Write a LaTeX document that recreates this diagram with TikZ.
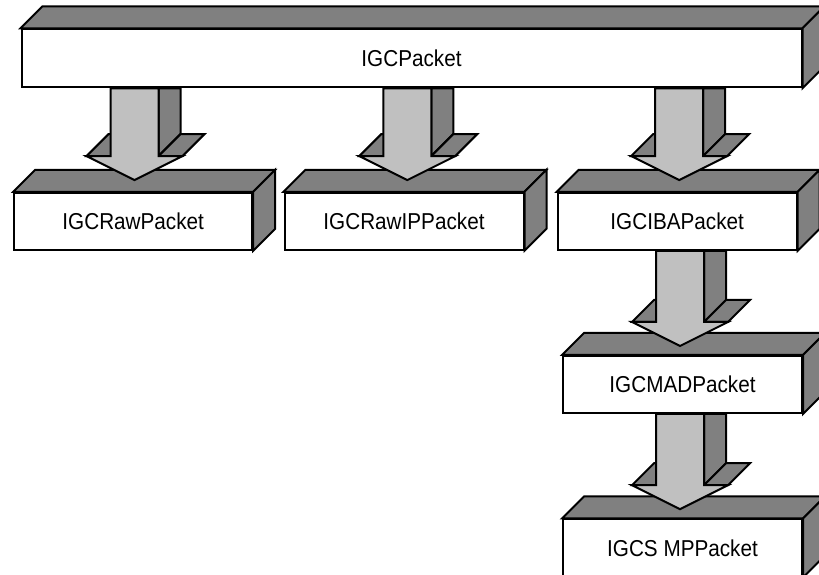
\documentclass[tikz,border=0pt]{standalone}
\usepackage{fontspec}
\setmainfont{Liberation Sans}
\newfontfamily\labelfont[FakeStretch=0.9]{Liberation Sans}
\usetikzlibrary{calc}
\definecolor{shade}{HTML}{808080}
\definecolor{lightshade}{HTML}{C0C0C0}
\tikzset{
  edge3d/.style={draw=black, line width=2pt},
  classbox/.style={edge3d, fill=white, rectangle, inner sep=0pt,
    minimum width=239pt, minimum height=57pt,
    font=\labelfont\fontsize{23}{26}\selectfont},
  face/.style={edge3d, fill=shade},
  arrowfront/.style={edge3d, fill=lightshade},
}
% top and right faces of an extruded box (depth 22)
\newcommand\boxfaces[1]{%
  \filldraw[face] (#1.north west) -- ++(22,22) -- ($(#1.north east)+(22,22)$) -- (#1.north east) -- cycle;
  \filldraw[face] (#1.north east) -- ++(22,22) -- ($(#1.south east)+(22,22)$) -- (#1.south east) -- cycle;
}
% extruded block arrow from #1 down to #2; #3 = x offset, #4 = tip height above #2
\newcommand\blockarrow[4]{%
  \coordinate (bat) at ($(#1.south -| #2.north)+(#3,0)$);
  \coordinate (bap) at ($(#2.north)+(#3,#4)$);
  \filldraw[face] ($(bat)+(24,0)$) -- ($(bat)+(46,0)$) -- ($(bap)+(46,46)$) -- ($(bap)+(24,24)$) -- cycle;
  \filldraw[face] ($(bap)+(24,24)$) -- ($(bap)+(48,24)$) -- ($(bap)+(70,46)$) -- ($(bap)+(46,46)$) -- cycle;
  \filldraw[face] ($(bap)+(-48,24)$) -- ($(bap)+(-24,24)$) -- ($(bap)+(-2,46)$) -- ($(bap)+(-26,46)$) -- cycle;
  \filldraw[arrowfront] ($(bat)+(-24,0)$) -- ($(bap)+(-24,24)$) -- ($(bap)+(-48,24)$) -- (bap)
    -- ($(bap)+(48,24)$) -- ($(bap)+(24,24)$) -- ($(bat)+(24,0)$) -- cycle;
}
\begin{document}
\begin{tikzpicture}[x=1pt,y=1pt]
  \useasboundingbox (0,0) rectangle (819,575);
  \fill[white] (0,0) rectangle (819,575);
  \clip (0,0) rectangle (819,575);

  % class boxes
  \node[classbox, minimum width=780pt, minimum height=58pt] (igc) at (411.5,516.7) {IGCPacket};
  \boxfaces{igc}
  \node[classbox, minimum width=238pt] (raw) at (133.2,353.7) {IGCRawPacket};
  \boxfaces{raw}
  \node[classbox] (rawip) at (404,353.7) {IGCRawIPPacket};
  \boxfaces{rawip}
  \node[classbox] (iba) at (677.2,353.7) {IGCIBAPacket};
  \boxfaces{iba}
  \node[classbox] (mad) at (682.5,190.5) {IGCMADPacket};
  \boxfaces{mad}
  \node[classbox] (smp) at (682.5,27) {IGCS MPPacket};
  \boxfaces{smp}

  % inheritance arrows
  \blockarrow{igc}{raw}{1.3}{11.7}
  \blockarrow{igc}{rawip}{3.3}{11.7}
  \blockarrow{igc}{iba}{2}{11.7}
  \blockarrow{iba}{mad}{-2.5}{9}
  \blockarrow{mad}{smp}{-2.5}{9.3}
\end{tikzpicture}
\end{document}
